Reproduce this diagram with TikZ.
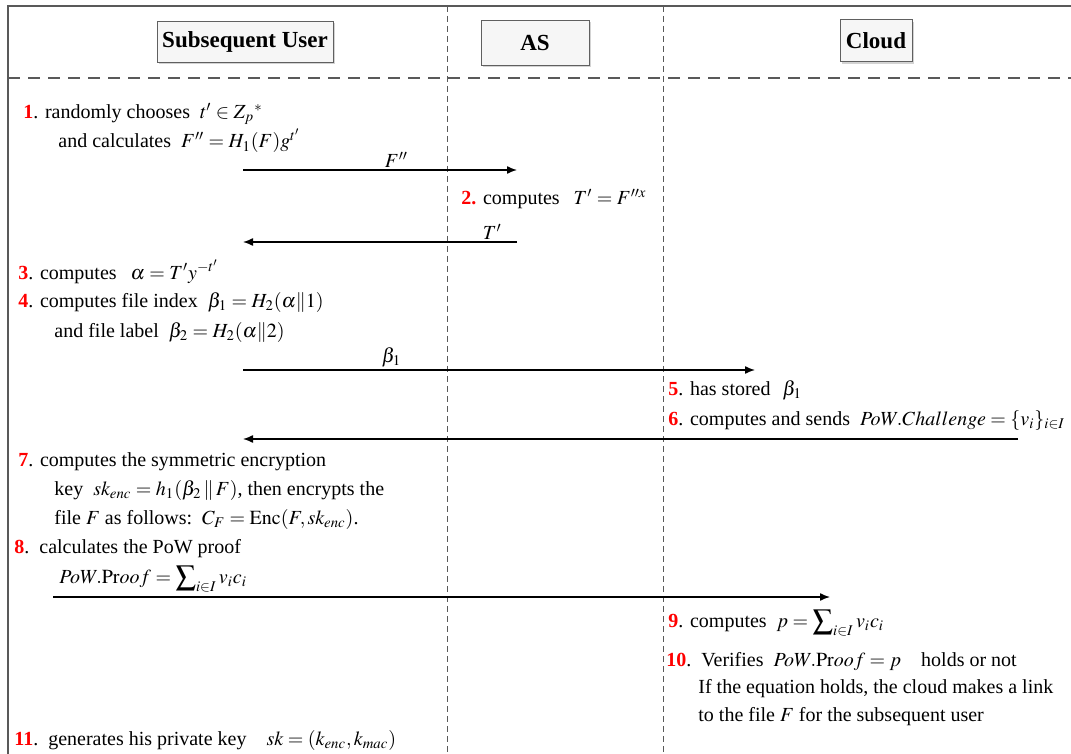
\documentclass[tikz,border=0pt]{standalone}
\usepackage{mathptmx}
\usepackage{fontspec}
\setmainfont{Liberation Serif}
\usetikzlibrary{arrows.meta,shadows}

\tikzset{
  frame/.style={gray!70!black, line width=1pt},
  lane/.style={gray!70!black, line width=0.5pt, dash pattern=on 3pt off 2pt},
  rule/.style={gray!70!black, line width=1pt, dash pattern=on 6pt off 4pt},
  actor/.style={draw=gray!75!black, fill=gray!7, line width=0.5pt, inner sep=0pt,
    font=\fontsize{11.5}{13}\selectfont\bfseries,
    drop shadow={shadow xshift=1pt, shadow yshift=-1pt, opacity=0.35}},
  msg/.style={-{Latex[length=5pt,width=4pt]}, line width=0.7pt},
  msglabel/.style={above, inner sep=1pt},
  note/.style={anchor=base west, inner sep=0pt, font=\fontsize{10}{12}\selectfont},
}
\newcommand{\stepno}[1]{\textcolor{red}{\textbf{#1}}}
\newcommand{\bigsum}{\displaystyle\sum\nolimits}

\begin{document}
\begin{tikzpicture}[x=0.5pt,y=-0.5pt]
\useasboundingbox (0,0) rectangle (1071,754);

% frame and lanes
\draw[frame] (8,754) -- (8,6) -- (1071,6);
\draw[rule] (8,78) -- (1071,78);
\draw[lane] (447,6) -- (447,754);
\draw[lane] (663,6) -- (663,754);

% actors
\node[actor, minimum width=88pt, minimum height=20.5pt] (user) at (245,42) {Subsequent User};
\node[actor, minimum width=54pt, minimum height=22.5pt] (as) at (535,43) {AS};
\node[actor, minimum width=36pt, minimum height=21pt] (cloud) at (876,41) {Cloud};

% message ends
\coordinate (u1) at (243,170);
\coordinate (a1) at (517,170);
\coordinate (a2) at (517,242);
\coordinate (u2) at (243,242);
\coordinate (u3) at (243,370);
\coordinate (c3) at (755,370);
\coordinate (c4) at (1018,439);
\coordinate (u4) at (243,439);
\coordinate (u5) at (53,597);
\coordinate (c5) at (830,597);

% steps
\node[note] (s1) at (23,119) {\stepno{1}. randomly chooses\enspace $t'\in Z_p{}^{*}$};
\node[note] (s1b) at (58,148) {and calculates\enspace $F''=H_1(F)g^{t'}$};
\draw[msg] (u1) -- node[msglabel, pos=0.56] {$F''$} (a1);
\node[note] (s2) at (461,205) {\stepno{2.} computes\hspace{7pt}$T'=F^{\prime\prime x}$};
\draw[msg] (a2) -- node[msglabel, pos=0.09] {$T'$} (u2);
\node[note] (s3) at (18,279) {\stepno{3}. computes\hspace{7pt}$\alpha=T'y^{-t'}$};
\node[note] (s4) at (18,307) {\stepno{4}. computes file index\enspace $\beta_1=H_2(\alpha\|1)$};
\node[note] (s4b) at (54,337) {and file label\enspace $\beta_2=H_2(\alpha\|2)$};
\draw[msg] (u3) -- node[msglabel, pos=0.29] {$\beta_1$} (c3);
\node[note] (s5) at (668,395) {\stepno{5}. has stored\hspace{6pt}$\beta_1$};
\node[note] (s6) at (668,425) {\stepno{6}. computes and sends\enspace $PoW.Challenge=\{v_i\}_{i\in I}$};
\draw[msg] (c4) -- (u4);
\node[note] (s7) at (18,466) {\stepno{7}. computes the symmetric encryption};
\node[note] (s7b) at (54,495) {key\enspace $sk_{enc}=h_1(\beta_2\,\|\,F)$, then encrypts the};
\node[note] (s7c) at (54,524) {file $F$ as follows:\enspace $C_F=\mathrm{Enc}(F,sk_{enc})$.};
\node[note] (s8) at (14,553) {\stepno{8}.\enspace calculates the PoW proof};
\node[note] (s8b) at (59,583) {$PoW.\mathrm{Pr}oof=\bigsum_{i\in I}v_ic_i$};
\draw[msg] (u5) -- (c5);
\node[note] (s9) at (668,627) {\stepno{9}. computes\enspace $p=\bigsum_{i\in I}v_ic_i$};
\node[note] (s10) at (666,666) {\stepno{10}.\enspace Verifies\enspace $PoW.\mathrm{Pr}oof=p$\hspace{10pt}holds or not};
\node[note] (s10b) at (698,693) {If the equation holds, the cloud makes a link};
\node[note] (s10c) at (698,721) {to the file $F$ for the subsequent user};
\node[note] (s11) at (14,745) {\stepno{11}.\enspace generates his private key\hspace{10pt}$sk=(k_{enc},k_{mac})$};
\end{tikzpicture}
\end{document}
